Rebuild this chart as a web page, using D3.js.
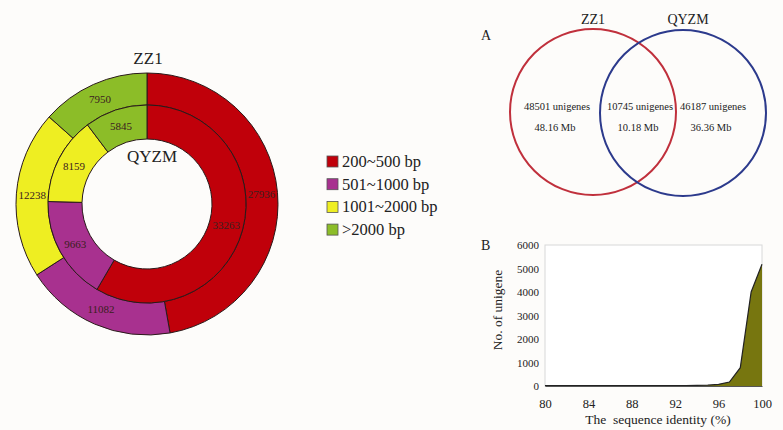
<!DOCTYPE html>
<html>
<head>
<meta charset="utf-8">
<script src="https://cdn.jsdelivr.net/npm/d3@7"></script>
<style>
  body { margin: 0; background: #fdfcfa; }
  svg text { font-family: "Liberation Serif", "Times New Roman", "DejaVu Serif", serif; fill: #222; }
</style>
</head>
<body>
<div id="viz"></div>
<script>
var width = 783;
var height = 430;
var serif = "'Liberation Serif', 'Times New Roman', 'DejaVu Serif', serif";

// length classes (legend + donut)
var classes = ["200~500 bp", "501~1000 bp", "1001~2000 bp", ">2000 bp"];
var classColors = ["#c0000a", "#a8318f", "#eeee22", "#8cbd28"];
var zz1Counts = [27936, 11082, 12238, 7950];
var qyzmCounts = [33263, 9663, 8159, 5845];

// venn
var vennNames = ["ZZ1", "QYZM"];
var vennUnigenes = ["48501 unigenes", "10745 unigenes", "46187 unigenes"];
var vennSizes = ["48.16 Mb", "10.18 Mb", "36.36 Mb"];

// identity distribution
var identity = [80, 81, 82, 83, 84, 85, 86, 87, 88, 89, 90, 91, 92, 93, 94, 95, 96, 97, 98, 99, 100];
var unigeneNum = [15, 15, 15, 20, 20, 20, 20, 20, 15, 15, 15, 15, 15, 20, 25, 35, 70, 170, 780, 4000, 5180];
var xTicks = [80, 84, 88, 92, 96, 100];
var yTicks = [0, 1000, 2000, 3000, 4000, 5000, 6000];

var svg = d3.select("#viz").append("svg")
   .attr("width", width)
   .attr("height", height)
   .style("font-family", serif);

svg.append("rect")
   .attr("width", width)
   .attr("height", height)
   .attr("fill", "#fdfcfa");

// ---- Donut ----
var cx = 147, cy = 204;
var pie = d3.pie().sort(null).value(function(d) { return d; });
var outerArc = d3.arc().innerRadius(99).outerRadius(131);
var innerArc = d3.arc().innerRadius(65).outerRadius(99);

var donut = svg.append("g").attr("transform", "translate(" + cx + "," + cy + ")");

function drawRing(counts, arc) {
   var g = donut.append("g");
   g.selectAll("path")
      .data(pie(counts))
      .enter().append("path")
      .attr("d", arc)
      .attr("fill", function(d, i) { return classColors[i]; })
      .attr("stroke", "#2a1a1a")
      .attr("stroke-width", 1);
   g.selectAll("text")
      .data(pie(counts))
      .enter().append("text")
      .attr("transform", function(d) { return "translate(" + arc.centroid(d) + ")"; })
      .attr("text-anchor", "middle")
      .attr("dy", "0.35em")
      .style("font-size", "11px")
      .style("fill", "#3a2020")
      .text(function(d) { return d.data; });
}
drawRing(zz1Counts, outerArc);
drawRing(qyzmCounts, innerArc);

svg.append("text").attr("x", cx + 1).attr("y", 64)
   .attr("text-anchor", "middle").style("font-size", "17px").text("ZZ1");
svg.append("text").attr("x", cx + 5).attr("y", 162)
   .attr("text-anchor", "middle").style("font-size", "17px").text("QYZM");

// ---- Legend ----
var legend = svg.append("g").attr("transform", "translate(327,156)");
var rows = legend.selectAll("g")
   .data(classes)
   .enter().append("g")
   .attr("transform", function(d, i) { return "translate(0," + (i * 22.7) + ")"; });
rows.append("rect")
   .attr("width", 11).attr("height", 11)
   .attr("fill", function(d, i) { return classColors[i]; })
   .attr("stroke", "#555").attr("stroke-width", 0.8);
rows.append("text")
   .attr("x", 15).attr("y", 11)
   .style("font-size", "16.5px")
   .text(function(d) { return d; });

// ---- Venn (A) ----
svg.append("text").attr("x", 481).attr("y", 40).style("font-size", "14px").text("A");
svg.append("circle").attr("cx", 593).attr("cy", 112).attr("r", 83)
   .attr("fill", "none").attr("stroke", "#c0303c").attr("stroke-width", 2);
svg.append("circle").attr("cx", 683).attr("cy", 113).attr("r", 83)
   .attr("fill", "none").attr("stroke", "#2c3a8c").attr("stroke-width", 2);
svg.append("text").attr("x", 593).attr("y", 24).attr("text-anchor", "middle")
   .style("font-size", "14px").text(vennNames[0]);
svg.append("text").attr("x", 688).attr("y", 24).attr("text-anchor", "middle")
   .style("font-size", "14px").text(vennNames[1]);
var vennX = [557, 640, 713];
vennUnigenes.forEach(function(t, i) {
   svg.append("text").attr("x", vennX[i]).attr("y", 110).attr("text-anchor", "middle")
      .style("font-size", "10.5px").text(t);
   svg.append("text").attr("x", vennX[i] - 2).attr("y", 131).attr("text-anchor", "middle")
      .style("font-size", "10.5px").text(vennSizes[i]);
});

// ---- Area chart (B) ----
var x = d3.scaleLinear().domain([80, 100]).range([545, 762]);
var y = d3.scaleLinear().domain([0, 6000]).range([386, 245]);

svg.append("text").attr("x", 481).attr("y", 250).style("font-size", "14px").text("B");

svg.append("rect")
   .attr("x", x(80)).attr("y", y(6000))
   .attr("width", x(100) - x(80)).attr("height", y(0) - y(6000))
   .attr("fill", "#ffffff").attr("stroke", "#d8d8d8").attr("stroke-width", 1);

var pts = identity.map(function(v, i) { return [v, unigeneNum[i]]; });
var area = d3.area()
   .x(function(d) { return x(d[0]); })
   .y0(y(0))
   .y1(function(d) { return y(d[1]); });
var line = d3.line()
   .x(function(d) { return x(d[0]); })
   .y(function(d) { return y(d[1]); });

svg.append("path").datum(pts).attr("d", area).attr("fill", "#77760f");
svg.append("path").datum(pts).attr("d", line)
   .attr("fill", "none").attr("stroke", "#222").attr("stroke-width", 1.2);

var xAxis = svg.append("g").attr("transform", "translate(0," + y(0) + ")")
   .call(d3.axisBottom(x).tickValues(xTicks).tickSize(0).tickPadding(13))
   .attr("font-family", serif);
xAxis.select(".domain").attr("stroke", "#555");
xAxis.selectAll("text").style("font-size", "12.5px").attr("fill", "#222");

var yAxis = svg.append("g").attr("transform", "translate(" + x(80) + ",0)")
   .call(d3.axisLeft(y).tickValues(yTicks).tickFormat(d3.format("d")).tickSize(0).tickPadding(6))
   .attr("font-family", serif);
yAxis.select(".domain").remove();
yAxis.selectAll("text").style("font-size", "11px").attr("fill", "#222");

svg.append("text").attr("x", 658).attr("y", 424).attr("text-anchor", "middle")
   .style("font-size", "13.5px").attr("xml:space", "preserve").text("The  sequence identity (%)");
svg.append("text")
   .attr("transform", "translate(502,310) rotate(-90)")
   .attr("text-anchor", "middle")
   .style("font-size", "13.5px").text("No. of unigene");
</script>
</body>
</html>
